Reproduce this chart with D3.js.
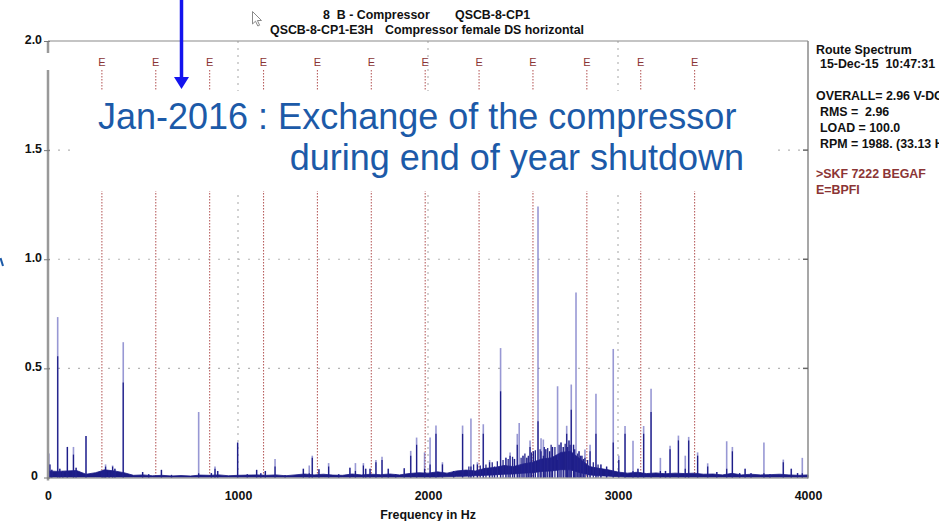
<!DOCTYPE html>
<html>
<head>
<meta charset="utf-8">
<script src="https://cdn.jsdelivr.net/npm/d3@7"></script>
<style>
  html, body { margin: 0; padding: 0; background: #fff; }
  svg { display: block; font-family: "Liberation Sans", Arial, sans-serif; }
  .hdr { font-weight: bold; font-size: 12.4px; fill: #111; white-space: pre; }
  .ax text { font-weight: bold; font-size: 12.4px; fill: #111; font-family: "Liberation Sans", Arial, sans-serif; }
</style>
</head>
<body>
<svg id="chart" width="939" height="521"></svg>
<script>
// ---- spectrum data (frequency in Hz, amplitude in V-DG) ----
const xTicks = [0, 1000, 2000, 3000, 4000];
const yTicks = [0, 0.5, 1.0, 1.5, 2.0];

// broadband floor, sampled every 50 Hz from 0 to 4000 Hz
const floorHz = d3.range(0, 4001, 50);
const floorHi = [
  0.030, 0.028, 0.030, 0.032, 0.015, 0.022, 0.035, 0.030, 0.022, 0.010,
  0.012, 0.008, 0.010, 0.007, 0.009, 0.007, 0.011, 0.010, 0.012, 0.008,
  0.010, 0.011, 0.012, 0.010, 0.012, 0.008, 0.012, 0.016, 0.012, 0.015,
  0.011, 0.010, 0.016, 0.012, 0.015, 0.013, 0.016, 0.012, 0.018, 0.022,
  0.020, 0.026, 0.020, 0.030, 0.034, 0.030, 0.042, 0.046, 0.055, 0.050,
  0.062, 0.070, 0.085, 0.090, 0.115, 0.120, 0.085, 0.050, 0.042, 0.035,
  0.025, 0.020, 0.024, 0.018, 0.021, 0.017, 0.020, 0.018, 0.020, 0.015,
  0.016, 0.012, 0.019, 0.012, 0.015, 0.012, 0.013, 0.015, 0.012, 0.010,
  0.012
];
const floorLo = [
  0.002, 0.002, 0.002, 0.002, 0.002, 0.002, 0.002, 0.002, 0.002, 0.002,
  0.002, 0.002, 0.002, 0.002, 0.002, 0.002, 0.002, 0.002, 0.002, 0.002,
  0.002, 0.002, 0.002, 0.002, 0.002, 0.002, 0.002, 0.002, 0.002, 0.002,
  0.002, 0.002, 0.002, 0.002, 0.002, 0.002, 0.002, 0.002, 0.002, 0.002,
  0.002, 0.002, 0.004, 0.005, 0.006, 0.008, 0.010, 0.012, 0.015, 0.016,
  0.020, 0.022, 0.028, 0.030, 0.036, 0.035, 0.022, 0.012, 0.008, 0.006,
  0.004, 0.002, 0.002, 0.002, 0.002, 0.002, 0.002, 0.002, 0.002, 0.002,
  0.002, 0.002, 0.002, 0.002, 0.002, 0.002, 0.002, 0.002, 0.002, 0.002,
  0.002
];

// discrete lines: [frequency, peak amplitude, dense-core amplitude]
const peaks = [
  [3, 0.11, 0.11], [10, 0.06, 0.06], [20, 0.035, 0.035], [51, 0.735, 0.555],
  [62, 0.04, 0.04], [78, 0.03, 0.03], [102, 0.14, 0.14], [134, 0.14, 0.105],
  [148, 0.045, 0.045], [200, 0.19, 0.19], [285, 0.03, 0.03], [295, 0.035, 0.035],
  [303, 0.06, 0.05], [322, 0.025, 0.025], [340, 0.055, 0.05], [352, 0.04, 0.04],
  [396, 0.62, 0.435], [498, 0.025, 0.025], [530, 0.015, 0.015], [597, 0.035, 0.035],
  [650, 0.012, 0.012], [793, 0.30, 0.02], [860, 0.02, 0.02], [879, 0.05, 0.04],
  [893, 0.03, 0.03], [998, 0.16, 0.16], [1049, 0.015, 0.015], [1098, 0.035, 0.035],
  [1120, 0.02, 0.02], [1144, 0.03, 0.03], [1195, 0.085, 0.05], [1248, 0.012, 0.012],
  [1344, 0.04, 0.04], [1375, 0.055, 0.02], [1391, 0.10, 0.09], [1426, 0.038, 0.038],
  [1477, 0.066, 0.05], [1530, 0.015, 0.015], [1589, 0.045, 0.045], [1618, 0.066, 0.03],
  [1660, 0.066, 0.055], [1672, 0.04, 0.04], [1695, 0.04, 0.04], [1726, 0.08, 0.07],
  [1758, 0.095, 0.08], [1791, 0.04, 0.04], [1830, 0.015, 0.015], [1875, 0.042, 0.042],
  [1909, 0.122, 0.10], [1940, 0.183, 0.15], [1982, 0.115, 0.04], [2011, 0.183, 0.06],
  [2042, 0.238, 0.20], [2076, 0.07, 0.06], [2135, 0.03, 0.03], [2182, 0.238, 0.20],
  [2226, 0.27, 0.05], [2260, 0.07, 0.06], [2291, 0.244, 0.20], [2324, 0.08, 0.07],
  [2350, 0.05, 0.05], [2382, 0.593, 0.395], [2410, 0.09, 0.09], [2432, 0.115, 0.10],
  [2455, 0.085, 0.085], [2470, 0.20, 0.15], [2480, 0.25, 0.05], [2500, 0.10, 0.10],
  [2520, 0.09, 0.09], [2537, 0.17, 0.14], [2555, 0.12, 0.12], [2579, 1.242, 0.258],
  [2595, 0.18, 0.12], [2607, 0.174, 0.10], [2620, 0.13, 0.13], [2640, 0.12, 0.12],
  [2655, 0.14, 0.14], [2682, 0.418, 0.08], [2700, 0.16, 0.16], [2712, 0.14, 0.14],
  [2730, 0.237, 0.20], [2742, 0.17, 0.17], [2754, 0.426, 0.31], [2766, 0.15, 0.15],
  [2779, 0.848, 0.10], [2795, 0.12, 0.12], [2810, 0.10, 0.10], [2826, 0.128, 0.09],
  [2853, 0.15, 0.12], [2884, 0.384, 0.20], [2910, 0.06, 0.06], [2940, 0.05, 0.05],
  [2975, 0.589, 0.16], [3004, 0.10, 0.08], [3037, 0.236, 0.20], [3079, 0.168, 0.03],
  [3105, 0.04, 0.04], [3135, 0.236, 0.20], [3174, 0.407, 0.30], [3223, 0.09, 0.03],
  [3250, 0.03, 0.03], [3274, 0.146, 0.13], [3318, 0.192, 0.17], [3354, 0.10, 0.04],
  [3372, 0.186, 0.17], [3419, 0.115, 0.10], [3472, 0.065, 0.05], [3520, 0.025, 0.025],
  [3572, 0.166, 0.04], [3602, 0.14, 0.12], [3640, 0.02, 0.02], [3669, 0.04, 0.04],
  [3700, 0.02, 0.02], [3768, 0.16, 0.02], [3800, 0.015, 0.015], [3870, 0.082, 0.07],
  [3912, 0.04, 0.04], [3945, 0.02, 0.02], [3970, 0.09, 0.02]
];

// small lines riding on the raised floor between 2200 and 2900 Hz
const grass = [
  [2215, 0.05], [2240, 0.06], [2275, 0.055], [2305, 0.06], [2338, 0.07],
  [2365, 0.075], [2395, 0.08], [2422, 0.085], [2445, 0.095], [2490, 0.09],
  [2510, 0.11], [2528, 0.10], [2545, 0.115], [2565, 0.125], [2590, 0.13],
  [2612, 0.14], [2630, 0.135], [2648, 0.15], [2668, 0.14], [2690, 0.15],
  [2722, 0.155], [2735, 0.14], [2748, 0.15], [2772, 0.13], [2788, 0.11],
  [2802, 0.10], [2818, 0.085], [2840, 0.08], [2870, 0.07], [2895, 0.06]
];

// bearing defect frequency markers (inner race, SKF 7222 at 33.13 Hz)
const bpfiHz = 283.6;
const bpfiOrders = [1, 2, 3, 4, 5, 6, 7, 8, 9, 10, 11, 12];

const headerLines = [
  { x: 323, y: 19, t: "8  B - Compressor" },
  { x: 455, y: 19, t: "QSCB-8-CP1" },
  { x: 270, y: 34, t: "QSCB-8-CP1-E3H" },
  { x: 385, y: 34, t: "Compressor female DS horizontal" }
];
const infoLines = [
  { x: 816, y: 54, t: "Route Spectrum", c: "#111" },
  { x: 820, y: 68, t: "15-Dec-15  10:47:31", c: "#111" },
  { x: 816, y: 100, t: "OVERALL= 2.96 V-DG", c: "#111" },
  { x: 820, y: 116, t: "RMS =  2.96", c: "#111" },
  { x: 820, y: 132, t: "LOAD = 100.0", c: "#111" },
  { x: 820, y: 148, t: "RPM = 1988. (33.13 Hz)", c: "#111" },
  { x: 816, y: 178, t: ">SKF 7222 BEGAF", c: "#8b3535" },
  { x: 816, y: 194, t: "E=BPFI", c: "#8b3535" }
];
const noteLine1 = "Jan-2016 : Exchange of the compressor";
const noteLine2 = "during end of year shutdown";

// ---- drawing ----
const svg = d3.select("#chart");
const x = d3.scaleLinear().domain([0, 4000]).range([48, 808]);
const y = d3.scaleLinear().domain([0, 2]).range([477.5, 41]);

// grid
const grid = svg.append("g");
grid.selectAll("line.hg").data(yTicks.filter(d => d > 0 && d < 2)).join("line")
  .attr("x1", x(0)).attr("x2", x(4000))
  .attr("y1", d => y(d)).attr("y2", d => y(d))
  .attr("stroke", "#b5b5b5").attr("stroke-width", 1.2).attr("stroke-dasharray", "2,8");
grid.selectAll("line.vg").data(xTicks.filter(d => d > 0 && d < 4000)).join("line")
  .attr("x1", d => x(d)).attr("x2", d => x(d))
  .attr("y1", y(2)).attr("y2", y(0))
  .attr("stroke", "#b5b5b5").attr("stroke-width", 1.2).attr("stroke-dasharray", "2,5");

// BPFI harmonic markers
const em = svg.append("g");
em.selectAll("line").data(bpfiOrders).join("line")
  .attr("x1", d => x(d * bpfiHz)).attr("x2", d => x(d * bpfiHz))
  .attr("y1", 70).attr("y2", y(0))
  .attr("stroke", "#b86060").attr("stroke-width", 1.1).attr("stroke-dasharray", "1.5,1.5");
em.selectAll("text").data(bpfiOrders).join("text")
  .attr("x", d => x(d * bpfiHz)).attr("y", 66)
  .attr("text-anchor", "middle")
  .attr("font-size", 11).attr("fill", "#8b3535")
  .text("E");

// broadband floor
const floorData = floorHz.map((f, i) => ({ f, lo: floorLo[i], hi: floorHi[i] }));
svg.append("path").datum(floorData)
  .attr("d", d3.area().x(d => x(d.f)).y0(d => y(d.lo)).y1(d => y(d.hi)))
  .attr("fill", "#1c1c85").attr("stroke", "#1c1c85").attr("stroke-width", 0.8);

// spectral lines
const pk = svg.append("g");
pk.selectAll("line.gr").data(grass).join("line")
  .attr("x1", d => x(d[0])).attr("x2", d => x(d[0]))
  .attr("y1", y(0)).attr("y2", d => y(d[1]))
  .attr("stroke", "#25258c").attr("stroke-width", 1.3);
pk.selectAll("line.lt").data(peaks).join("line")
  .attr("x1", d => x(d[0])).attr("x2", d => x(d[0]))
  .attr("y1", y(0)).attr("y2", d => y(d[1]))
  .attr("stroke", "rgba(50,50,170,0.5)").attr("stroke-width", 1.6);
pk.selectAll("line.dk").data(peaks).join("line")
  .attr("x1", d => x(d[0])).attr("x2", d => x(d[0]))
  .attr("y1", y(0)).attr("y2", d => y(d[2]))
  .attr("stroke", "#1e1e88").attr("stroke-width", 1.25);

// frame
svg.append("line").attr("x1", x(0)).attr("x2", x(4000)).attr("y1", y(2)).attr("y2", y(2))
  .attr("stroke", "#8a8a8a").attr("stroke-width", 1.2);
svg.append("line").attr("x1", x(4000)).attr("x2", x(4000)).attr("y1", y(2)).attr("y2", y(0) + 1)
  .attr("stroke", "#8a8a8a").attr("stroke-width", 1.5);
svg.append("line").attr("x1", x(0)).attr("x2", x(4000)).attr("y1", y(0) + 0.5).attr("y2", y(0) + 0.5)
  .attr("stroke", "#777").attr("stroke-width", 1);
svg.append("line").attr("x1", x(0)).attr("x2", x(0)).attr("y1", y(2)).attr("y2", 53)
  .attr("stroke", "#999").attr("stroke-width", 2.5);
svg.append("line").attr("x1", x(0)).attr("x2", x(0)).attr("y1", 70).attr("y2", y(0) + 3)
  .attr("stroke", "#999").attr("stroke-width", 2.5);
// right-edge ticks
svg.selectAll("line.rt").data(yTicks.filter(d => d > 0 && d < 2)).join("line")
  .attr("x1", x(4000) - 5).attr("x2", x(4000))
  .attr("y1", d => y(d)).attr("y2", d => y(d))
  .attr("stroke", "#666").attr("stroke-width", 1.5);

// axes
const xAxis = svg.append("g").attr("class", "ax")
  .attr("transform", `translate(0,${y(0)})`)
  .call(d3.axisBottom(x).tickValues(xTicks).tickSize(0).tickSizeOuter(0).tickPadding(14).tickFormat(d3.format("d")));
xAxis.select(".domain").remove();

const yAxis = svg.append("g").attr("class", "ax")
  .attr("transform", `translate(${x(0)},0)`)
  .call(d3.axisLeft(y).tickValues(yTicks).tickSize(4).tickSizeOuter(0).tickPadding(3)
    .tickFormat(d => d === 0 ? "0" : d3.format(".1f")(d)));
yAxis.select(".domain").remove();
yAxis.selectAll(".tick line").attr("stroke", "#777").attr("x2", 2).attr("x1", -4);
yAxis.selectAll(".tick text").attr("dy", "0.2em")
  .attr("x", d => d === 0 ? -10 : -6);

svg.append("text").attr("class", "hdr")
  .attr("x", x(2000)).attr("y", 519).attr("text-anchor", "middle")
  .text("Frequency in Hz");

// header & info panel
svg.append("g").selectAll("text").data(headerLines).join("text")
  .attr("class", "hdr").attr("x", d => d.x).attr("y", d => d.y).text(d => d.t);
svg.append("g").selectAll("text").data(infoLines).join("text")
  .attr("class", "hdr").attr("x", d => d.x).attr("y", d => d.y)
  .style("fill", d => d.c).text(d => d.t);

// mouse pointer glyph
svg.append("path")
  .attr("d", "M252.5,11.5 L252.5,24 L255.5,21.2 L257.8,26 L259.6,25.2 L257.4,20.5 L261.5,20.5 Z")
  .attr("fill", "#fff").attr("stroke", "#8a8a8a").attr("stroke-width", 1);

// annotation
svg.append("rect").attr("x", 76).attr("y", 91).attr("width", 700).attr("height", 100).attr("fill", "#fff");
svg.append("text").attr("x", 98).attr("y", 128.5)
  .attr("font-size", 36).attr("fill", "#1c5aa8").text(noteLine1);
svg.append("text").attr("x", 744).attr("y", 170).attr("text-anchor", "end")
  .attr("font-size", 36).attr("fill", "#1c5aa8").text(noteLine2);

// arrow
svg.append("line").attr("x1", 181.5).attr("x2", 181.5).attr("y1", 0).attr("y2", 79)
  .attr("stroke", "#1414ee").attr("stroke-width", 3.5);
svg.append("path").attr("d", "M174,77 L189,77 L181.5,89 Z").attr("fill", "#1414ee");

// small mark at left edge
svg.append("path").attr("d", "M0.5,258 L3,266").attr("stroke", "#1c5aa8").attr("stroke-width", 2);
</script>
</body>
</html>
